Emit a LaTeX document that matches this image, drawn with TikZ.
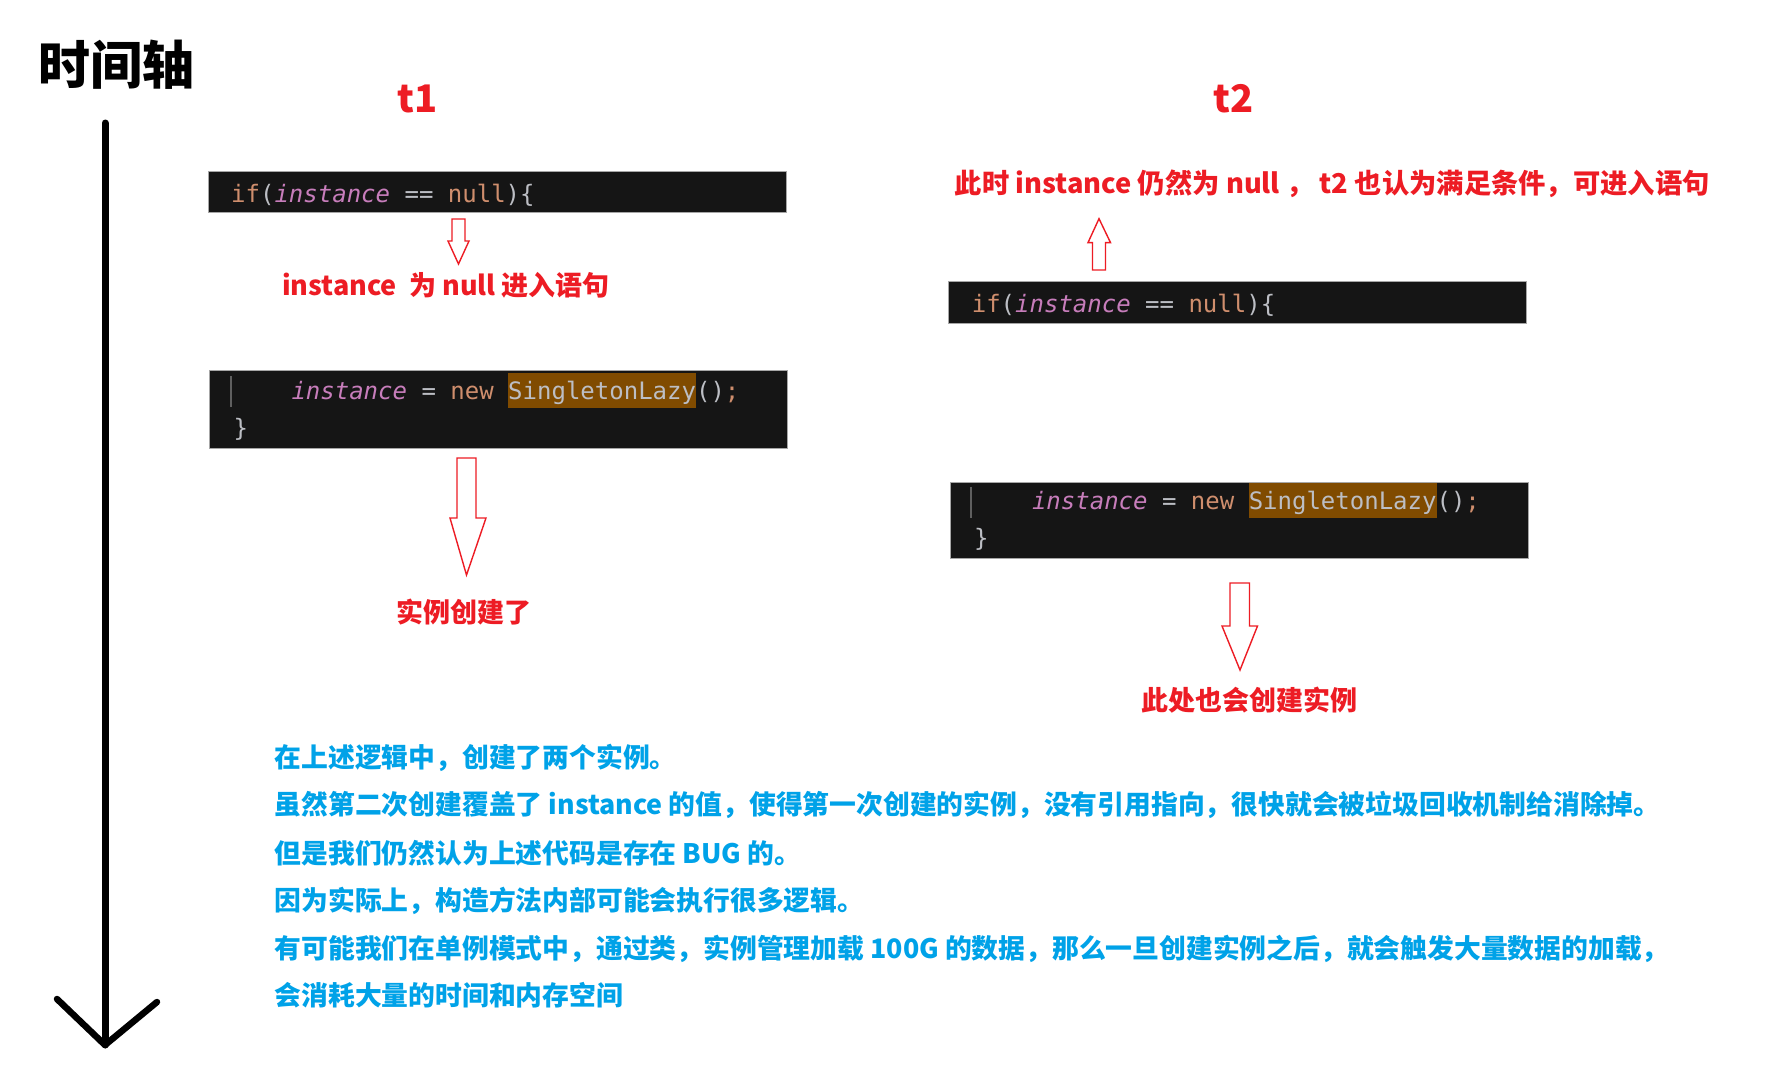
\documentclass[tikz,border=0pt]{standalone}
\usepackage{fontspec}
\usepackage{xcolor}
\newfontfamily\cjk{Noto Sans CJK SC}
\newfontfamily\codefont{DejaVu Sans Mono}
\definecolor{redc}{RGB}{237,28,36}
\definecolor{bluec}{RGB}{0,162,232}
\definecolor{codebg}{RGB}{21,21,21}
\definecolor{kwc}{RGB}{207,142,109}
\definecolor{purc}{RGB}{199,125,187}
\definecolor{dfc}{RGB}{188,190,196}
\definecolor{hlc}{RGB}{128,75,0}
\definecolor{guidec}{RGB}{95,95,95}
\newcommand\kw[1]{\textcolor{kwc}{#1}}
\newcommand\iv[1]{\textcolor{purc}{\itshape #1}}
\newcommand\df[1]{\textcolor{dfc}{#1}}
\newcommand\hl[1]{{\setlength\fboxsep{0pt}\colorbox{hlc}{\rule[-9pt]{0pt}{35.5pt}\textcolor{dfc}{#1}}}}
\tikzset{
  codebox/.style={fill=codebg, draw=gray!70, line width=0.8pt, inner sep=0pt},
  codetxt/.style={anchor=base west, inner sep=0pt, font=\codefont\fontsize{24}{28}\selectfont},
  redlabel/.style={text=redc, inner sep=0pt, font=\cjk\bfseries\fontsize{27}{31}\selectfont},
  bluetxt/.style={text=bluec, anchor=west, inner sep=0pt, font=\cjk\bfseries\fontsize{26.8}{31}\selectfont},
  hollow/.style={draw=redc, fill=white, line width=1.4pt, line join=miter},
  guide/.style={draw=guidec, line width=2pt}
}
\begin{document}
\begin{tikzpicture}[x=1pt,y=-1pt]
\fill[white] (0,0) rectangle (1786,1081);
\useasboundingbox (0,0) rectangle (1786,1081);

% title and timeline
\node[inner sep=0pt, font=\cjk\bfseries\fontsize{52}{58}\selectfont] (title) at (116,65) {时间轴};
\coordinate (tltop) at (105,123);
\coordinate (tlbot) at (105,1045);
\draw[line width=7pt, line cap=round] (tltop) -- (tlbot);
\draw[line width=6.5pt, line cap=round, line join=round] (57,999) -- (tlbot) -- (157,1002);

% thread headers
\node[redlabel, font=\cjk\bfseries\fontsize{38}{44}\selectfont] (t1) at (418,99) {t1};
\node[redlabel, font=\cjk\bfseries\fontsize{38}{44}\selectfont] (t2) at (1234,99) {t2};

% ---- t1 column ----
\node[codebox, minimum width=578pt, minimum height=41pt] (b1) at (497,191.4) {};
\node[codetxt] (c1) at (231,202) {\kw{if}\df{(}\iv{instance} \df{==} \kw{null}\df{)\{}};

\draw[hollow] (452,219) -- (465,219) -- (465,241) -- (469,241) -- (458.5,264) -- (448,241) -- (452,241) -- cycle;
\node[redlabel] (l1) at (446,285) {instance\ \ 为 null 进入语句};

\node[codebox, minimum width=578pt, minimum height=78pt] (b2) at (498.3,409) {};
\draw[guide] (231,376) -- (231,407);
\node[codetxt] (c2a) at (291.3,399) {\iv{instance} \df{=} \kw{new} \hl{SingletonLazy}\df{()}\kw{;}};
\node[codetxt] (c2b) at (233.5,436) {\df{\}}};

\draw[hollow] (457,458) -- (476,458) -- (476,518) -- (486,518) -- (466.5,575) -- (450,518) -- (457,518) -- cycle;
\node[redlabel] (l2) at (464,612) {实例创建了};

% ---- t2 column ----
\node[redlabel, anchor=west, font=\cjk\bfseries\fontsize{27.3}{31}\selectfont] (l3) at (954.5,183.4) {此时 instance 仍然为 null ， t2 也认为满足条件，可进入语句};
\draw[hollow] (1092.5,270) -- (1105.5,270) -- (1105.5,242.6) -- (1110.5,242.6) -- (1099,218.7) -- (1088,242.6) -- (1092.5,242.6) -- cycle;

\node[codebox, minimum width=578pt, minimum height=42pt] (b3) at (1237.5,302.4) {};
\node[codetxt] (c3) at (971.6,312) {\kw{if}\df{(}\iv{instance} \df{==} \kw{null}\df{)\{}};

\node[codebox, minimum width=578pt, minimum height=76pt] (b4) at (1239.8,520) {};
\draw[guide] (971,487) -- (971,518);
\node[codetxt] (c4a) at (1031.8,509) {\iv{instance} \df{=} \kw{new} \hl{SingletonLazy}\df{()}\kw{;}};
\node[codetxt] (c4b) at (974,546) {\df{\}}};

\draw[hollow] (1230,583) -- (1249.5,583) -- (1249.5,626) -- (1257.5,626) -- (1240,670) -- (1222,626) -- (1230,626) -- cycle;
\node[redlabel] (l4) at (1249,700.5) {此处也会创建实例};

% ---- explanation ----
\node[bluetxt] (p1) at (274.5,757.4) {在上述逻辑中，创建了两个实例。};
\node[bluetxt] (p2) at (274.5,805.3) {虽然第二次创建覆盖了 instance 的值，使得第一次创建的实例，没有引用指向，很快就会被垃圾回收机制给消除掉。};
\node[bluetxt] (p3) at (274.5,853.1) {但是我们仍然认为上述代码是存在 BUG 的。};
\node[bluetxt] (p4) at (274.5,901) {因为实际上，构造方法内部可能会执行很多逻辑。};
\node[bluetxt] (p5) at (274.5,948.8) {有可能我们在单例模式中，通过类，实例管理加载 100G 的数据，那么一旦创建实例之后，就会触发大量数据的加载，};
\node[bluetxt] (p6) at (274.5,995.5) {会消耗大量的时间和内存空间};
\end{tikzpicture}
\end{document}
